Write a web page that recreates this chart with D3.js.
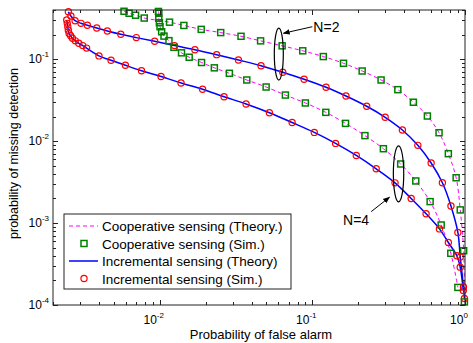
<!DOCTYPE html>
<html>
<head>
<meta charset="utf-8">
<script src="https://cdn.jsdelivr.net/npm/d3@7"></script>
<style>
  body { margin: 0; background: #fff; }
  svg { font-family: "Liberation Sans", Arial, sans-serif; }
  .ticklabel { font-size: 12px; fill: #000; }
  .sup { font-size: 8px; }
  .legend text { font-size: 13.5px; }
</style>
</head>
<body>
<div id="chart"></div>
<script>
// [probability of false alarm, probability of missing detection]
const coopN2 = [[0.00584,0.386],[0.0063,0.365],[0.00695,0.345],[0.00792,0.319],[0.0116,0.284],[0.0144,0.259],
  [0.0187,0.232],[0.0251,0.212],[0.0341,0.191],[0.0458,0.168],[0.0634,0.146],[0.0865,0.127],[0.118,0.108],
  [0.160,0.0894],[0.212,0.072],[0.282,0.0559],[0.363,0.0426],[0.459,0.0299],[0.567,0.0203],[0.676,0.0127],
  [0.778,0.00704],[0.875,0.00358],[0.931,0.00145],[0.980,0.00046],[0.991,0.000109]];
const coopN4 = [[0.00981,0.384],[0.00986,0.365],[0.00986,0.317],[0.00995,0.28],[0.01005,0.25],[0.0103,0.217],
  [0.01067,0.192],[0.0115,0.169],[0.0124,0.14],[0.0139,0.12],[0.0156,0.106],[0.0188,0.0914],[0.0228,0.0787],
  [0.0286,0.0675],[0.0372,0.0559],[0.0498,0.0459],[0.0666,0.0366],[0.090,0.0293],[0.1225,0.0225],[0.165,0.0165],
  [0.221,0.0117],[0.292,0.0081],[0.379,0.00527],[0.476,0.00327],[0.591,0.00183],[0.698,0.000948],[0.807,0.000428],
  [0.898,0.000164]];
const incN2 = [[0.00252,0.38],[0.00262,0.338],[0.00279,0.296],[0.00305,0.275],[0.00336,0.26],[0.00387,0.241],
  [0.00454,0.222],[0.00556,0.202],[0.00703,0.184],[0.00927,0.166],[0.0125,0.147],[0.017,0.131],[0.0236,0.114],
  [0.0328,0.0981],[0.0461,0.0835],[0.064,0.0694],[0.0883,0.057],[0.123,0.0455],[0.166,0.0356],[0.227,0.0267],
  [0.30,0.0196],[0.389,0.0137],[0.491,0.0089],[0.60,0.00542],[0.711,0.00311],[0.809,0.00162],[0.898,0.000768],
  [0.931,0.000385],[0.977,0.000166],[0.991,0.00012]];
const incN4 = [[0.00246,0.302],[0.00248,0.275],[0.0025,0.249],[0.00252,0.226],[0.00255,0.206],[0.00261,0.194],
  [0.00268,0.181],[0.0028,0.168],[0.00295,0.157],[0.00313,0.147],[0.00332,0.137],[0.0040,0.11],[0.0048,0.0973],
  [0.00596,0.0845],[0.0076,0.0726],[0.0102,0.0617],[0.0138,0.0514],[0.0191,0.0431],[0.0264,0.0349],
  [0.0368,0.0285],[0.0523,0.0223],[0.0737,0.0169],[0.103,0.0128],[0.142,0.0094],[0.194,0.0067],[0.262,0.0046],
  [0.348,0.0031],[0.444,0.002],[0.556,0.0013],[0.68,0.00085],[0.778,0.00058],[0.884,0.0004],[0.93,0.00029],
  [0.975,0.00015]];

const xTicks = [0.01, 0.1, 1];
const xTickExp = ["-2", "-1", "0"];
const yTicks = [1e-4, 1e-3, 1e-2, 1e-1];
const yTickExp = ["-4", "-3", "-2", "-1"];
const legendLabels = ["Cooperative sensing (Theory.)", "Cooperative sensing (Sim.)",
  "Incremental sensing (Theory)", "Incremental sensing (Sim.)"];

const W = 473, H = 343;
const margin = { top: 10, right: 8, bottom: 38, left: 53 };
const width = W - margin.left - margin.right;
const height = H - margin.top - margin.bottom;

const svg = d3.select("#chart").append("svg").attr("width", W).attr("height", H);
const g = svg.append("g").attr("transform", `translate(${margin.left},${margin.top})`);

const x = d3.scaleLog().domain([0.002, 1]).range([0, width]);
const y = d3.scaleLog().domain([1e-4, 0.4]).range([height, 0]);

svg.append("defs").append("clipPath").attr("id", "clip")
  .append("rect").attr("width", width).attr("height", height);

const plot = g.append("g").attr("clip-path", "url(#clip)");
const line = d3.line().curve(d3.curveCatmullRom)
  .x(d => x(d[0])).y(d => y(d[1]));

// theory curves
[coopN2, coopN4].forEach(s => {
  plot.append("path").attr("d", line(s)).attr("fill", "none")
    .attr("stroke", "#ff00ff").attr("stroke-width", 1).attr("stroke-dasharray", "4,3");
});
[incN2, incN4].forEach(s => {
  plot.append("path").attr("d", line(s)).attr("fill", "none")
    .attr("stroke", "#0000ff").attr("stroke-width", 1.5);
});

// simulation markers
const markers = g.append("g");
[coopN2, coopN4].forEach(s => {
  markers.selectAll(null).data(s).enter().append("rect")
    .attr("x", d => x(d[0]) - 3).attr("y", d => y(d[1]) - 3)
    .attr("width", 6).attr("height", 6)
    .attr("fill", "none").attr("stroke", "#008000").attr("stroke-width", 1.5);
});
[incN2, incN4].forEach(s => {
  markers.selectAll(null).data(s).enter().append("circle")
    .attr("cx", d => x(d[0])).attr("cy", d => y(d[1])).attr("r", 3.1)
    .attr("fill", "none").attr("stroke", "#ff0000").attr("stroke-width", 1.2);
});

// axes box and ticks (inside, matlab style)
const axisColor = "#222";
g.append("rect").attr("width", width).attr("height", height)
  .attr("fill", "none").attr("stroke", axisColor).attr("stroke-width", 1);

function logTicks(scale) {
  const [a, b] = scale.domain();
  const out = [];
  for (let e = Math.floor(Math.log10(a)); e <= Math.ceil(Math.log10(b)); e++) {
    for (let m = 1; m <= 9; m++) {
      const v = m * Math.pow(10, e);
      if (v >= a * 0.999 && v <= b * 1.001) out.push({ v: v, major: m === 1 });
    }
  }
  return out;
}
const tg = g.append("g").attr("stroke", axisColor).attr("stroke-width", 1);
logTicks(x).forEach(t => {
  const px = Math.round(x(t.v)) + 0.5, len = t.major ? 5 : 3;
  tg.append("line").attr("x1", px).attr("x2", px).attr("y1", height).attr("y2", height - len);
  tg.append("line").attr("x1", px).attr("x2", px).attr("y1", 0).attr("y2", len);
});
logTicks(y).forEach(t => {
  const py = Math.round(y(t.v)) + 0.5, len = t.major ? 5 : 3;
  tg.append("line").attr("x1", 0).attr("x2", len).attr("y1", py).attr("y2", py);
  tg.append("line").attr("x1", width).attr("x2", width - len).attr("y1", py).attr("y2", py);
});

// tick labels
xTicks.forEach((v, i) => {
  const t = g.append("text").attr("class", "ticklabel")
    .attr("x", x(v) - 6).attr("y", height + 19).attr("text-anchor", "middle");
  t.append("tspan").text("10");
  t.append("tspan").attr("class", "sup").attr("dy", -6).text(xTickExp[i]);
});
yTicks.forEach((v, i) => {
  const t = g.append("text").attr("class", "ticklabel")
    .attr("x", -4).attr("y", y(v) + 4).attr("text-anchor", "end");
  t.append("tspan").text("10");
  t.append("tspan").attr("class", "sup").attr("dy", -6).text(yTickExp[i]);
});

// axis titles
svg.append("text").attr("x", margin.left + width / 2 + 2).attr("y", H - 4)
  .attr("text-anchor", "middle").attr("font-size", 13).text("Probability of false alarm");
svg.append("text").attr("transform", `translate(18,${margin.top + height / 2 - 4}) rotate(-90)`)
  .attr("text-anchor", "middle").attr("font-size", 12.5).text("probability of missing detection");

// annotations
const ann = g.append("g").attr("fill", "none").attr("stroke", "#000").attr("stroke-width", 1.2);
ann.append("ellipse").attr("cx", x(0.0603)).attr("cy", y(0.116)).attr("rx", 4.5).attr("ry", 26);
ann.append("ellipse").attr("cx", x(0.367)).attr("cy", y(0.004)).attr("rx", 5.2).attr("ry", 28);
svg.append("defs").append("marker").attr("id", "arrow").attr("viewBox", "0 0 10 10")
  .attr("refX", 9).attr("refY", 5).attr("markerWidth", 7).attr("markerHeight", 7)
  .attr("orient", "auto-start-reverse")
  .append("path").attr("d", "M0,1 L10,5 L0,9 Z").attr("fill", "#000");
g.append("line").attr("x1", x(0.1)).attr("y1", y(0.25)).attr("x2", x(0.0646)).attr("y2", y(0.208))
  .attr("stroke", "#000").attr("stroke-width", 1).attr("marker-end", "url(#arrow)");
g.append("text").attr("x", x(0.1) + 1).attr("y", y(0.25) + 5).attr("font-size", 14).text("N=2");
g.append("line").attr("x1", x(0.243)).attr("y1", y(0.00138)).attr("x2", x(0.32)).attr("y2", y(0.00207))
  .attr("stroke", "#000").attr("stroke-width", 1).attr("marker-end", "url(#arrow)");
g.append("text").attr("x", x(0.159)).attr("y", y(0.00095)).attr("font-size", 14).text("N=4");

// legend
const lg = g.append("g").attr("class", "legend").attr("transform", "translate(11,204)");
lg.append("rect").attr("width", 227).attr("height", 75)
  .attr("fill", "#fff").attr("stroke", axisColor).attr("stroke-width", 1);
legendLabels.forEach((lab, i) => {
  const cy = 12 + i * 17.5;
  if (i === 0) lg.append("line").attr("x1", 5).attr("x2", 34).attr("y1", cy).attr("y2", cy)
    .attr("stroke", "#ff00ff").attr("stroke-dasharray", "4,3");
  if (i === 1) lg.append("rect").attr("x", 17).attr("y", cy - 3).attr("width", 6).attr("height", 6)
    .attr("fill", "none").attr("stroke", "#008000").attr("stroke-width", 1.5);
  if (i === 2) lg.append("line").attr("x1", 5).attr("x2", 34).attr("y1", cy).attr("y2", cy)
    .attr("stroke", "#0000ff").attr("stroke-width", 1.5);
  if (i === 3) lg.append("circle").attr("cx", 20).attr("cy", cy).attr("r", 3.1)
    .attr("fill", "none").attr("stroke", "#ff0000").attr("stroke-width", 1.2);
  lg.append("text").attr("x", 38).attr("y", cy + 5).text(lab);
});
</script>
</body>
</html>
